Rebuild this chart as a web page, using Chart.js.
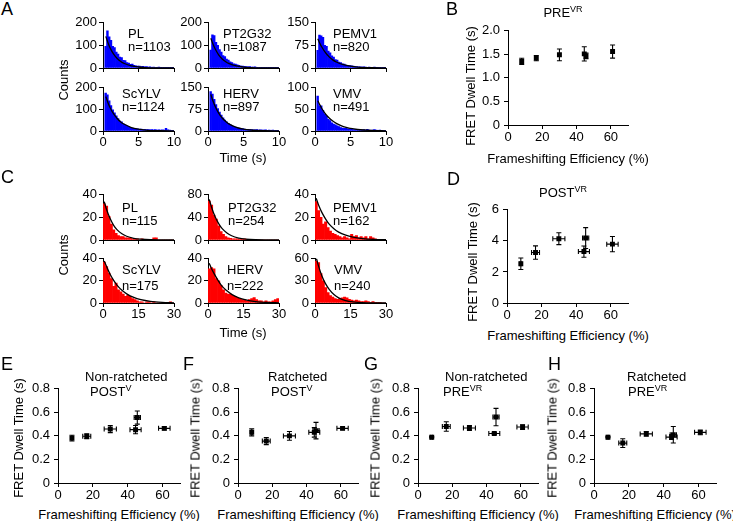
<!DOCTYPE html>
<html><head><meta charset="utf-8">
<script src="https://cdn.jsdelivr.net/npm/chart.js@4.4.1/dist/chart.umd.min.js"></script>
<style>
html,body{margin:0;padding:0;background:#fff}
body{width:733px;height:521px;position:relative;overflow:hidden;font-family:"Liberation Sans",Arial,sans-serif;color:#000}
canvas{position:absolute}
.tx{position:absolute;font-size:13px;line-height:13px;white-space:nowrap;transform:translateY(-50%)}
.cx{position:absolute;font-size:13px;line-height:13px;white-space:nowrap;transform:translate(-50%,-50%)}
.rot{position:absolute;font-size:13px;line-height:13px;white-space:nowrap;transform:translate(-50%,-50%) rotate(-90deg)}
.pl{position:absolute;font-size:18px;line-height:18px}
.sp{font-size:9px;line-height:0;vertical-align:5px}
</style></head><body>
<script>
// ---------------- DATA ----------------
const histNames = ['PL','PT2G32','PEMV1','ScYLV','HERV','VMV'];
const nA = [1103,1087,820,1124,897,491];
const nC = [115,254,162,175,222,240];
const yMaxA = [200,200,150,200,150,100];
const yMaxC = [40,80,40,40,40,60];
const timeTicksA = [0,5,10];
const timeTicksC = [0,15,30];
const binWidthA = 0.25;
const binWidthC = 1;

// Panel A histogram counts (0.25 s bins, 0-10 s)
const countsA_PL    = [0,96,164,138,122,96,90,70,62,48,46,34,33,24,22,16,17,12,10,9,8,6,7,5,6,4,5,3,4,3,2,4,3,2,2,3,1,2,2,1];
const countsA_PT2G32= [0,79,147,143,114,100,82,70,55,50,40,35,27,24,19,17,14,12,9,9,7,6,5,6,4,4,5,3,3,2,3,2,3,2,1,2,2,1,2,1];
const countsA_PEMV1 = [0,59,109,107,102,75,72,56,50,40,36,28,26,20,18,14,13,10,9,8,7,6,5,5,4,4,3,4,3,2,3,2,2,3,1,2,2,1,1,1];
const countsA_ScYLV = [0,175,168,140,118,98,84,70,58,46,42,33,28,24,20,17,14,12,10,10,8,9,7,8,6,7,5,6,5,6,4,5,4,5,4,12,5,4,3,2];
const countsA_HERV  = [0,137,128,110,92,78,66,55,46,38,32,27,22,19,16,14,11,10,9,8,7,6,6,5,5,4,4,5,3,4,3,3,4,2,3,2,3,2,2,2];
const countsA_VMV   = [0,81,58,58,48,40,34,27,24,19,16,14,12,10,8,7,6,6,5,4,4,3,3,4,2,3,2,3,2,4,2,1,2,3,2,1,2,1,1,1];

// Panel C histogram counts (1 s bins, 0-30 s)
const countsC_PL    = [32,30,21,14,9,6,4,3,3,2,2,2,1,1,1,0,1,0,0,0,0,2,2,0,0,0,0,0,0,0];
const countsC_PT2G32= [69,62,44,37,25,15,10,6,4,3,2,2,2,1,1,2,1,0,1,0,0,0,0,0,0,0,0,0,0,0];
const countsC_PEMV1 = [34,26,20,14,16,11,8,6,5,4,3,2,3,2,1,5,3,4,2,3,2,3,1,3,2,1,0,0,0,0];
const countsC_ScYLV = [37,33,27,22,15,18,12,10,8,6,7,6,4,3,2,1,1,0,1,1,0,1,0,0,0,0,0,0,1,0];
const countsC_HERV  = [31,32,31,22,20,16,12,9,8,8,7,6,5,4,3,3,2,3,4,5,3,2,2,1,2,1,1,2,3,4];
const countsC_VMV   = [57,55,40,30,21,14,10,8,6,5,6,7,8,7,5,4,3,4,3,2,2,3,2,1,2,1,1,1,0,0];

// Fit curves
const fitTimesA = [0.4,0.7,1,1.5,2,2.5,3,4,5,6,8,10];
const fitA_PL     = [140,112,89,61,42,29,20,9.5,4.5,2.1,0.5,0.1];
const fitA_PT2G32 = [132,106,85,58,40,28,19,9,4.3,2,0.5,0.1];
const fitA_PEMV1  = [97,81,68,50,37,27,20,11,6,3.2,1,0.3];
const fitA_ScYLV  = [160,131,108,79,58,42,31,16,8.5,4.5,1.2,0.3];
const fitA_HERV   = [127,104,86,62,45,33,24,12.5,6.5,3.4,0.9,0.2];
const fitA_VMV    = [70,60,51,39,30,23,17.5,10,6,3.5,1.2,0.4];

const fitTimesC = [0.5,1.5,3,4.5,6,8,10,13,16,20,25,30];
const fitC_PL     = [34,27,19,13,9,5.5,3.3,1.5,0.7,0.2,0.1,0];
const fitC_PT2G32 = [72,58,41,29,20,12.5,7.5,3.5,1.6,0.5,0.1,0];
const fitC_PEMV1  = [37,31,24,18.5,14,10,7,4.3,2.6,1.3,0.5,0.2];
const fitC_ScYLV  = [38,33,26,20.5,16,11.5,8.3,5,3,1.5,0.6,0.2];
const fitC_HERV   = [36,31,25,19.5,15,11,7.8,4.7,2.8,1.3,0.5,0.2];
const fitC_VMV    = [62,50,36,26,18.5,11.5,7,3.3,1.5,0.5,0.1,0];

// Scatter panels
const efficiency    = [8,16.5,30,44.5,45.5,61];
const efficiencyErr = [0.5,2.3,3.5,3.2,1.8,3.3];
const effTicks = [0,20,40,60];
const effMax = 70;

const dwellB_PREVR    = [1.35,1.42,1.49,1.51,1.47,1.56];
const dwellErrB_PREVR = [0.066,0.055,0.125,0.15,0.06,0.14];
const dwellD_POSTVR    = [2.53,3.25,4.14,3.31,4.18,3.79];
const dwellErrD_POSTVR = [0.37,0.43,0.38,0.36,0.67,0.49];
const dwellE = [0.381,0.397,0.458,0.453,0.556,0.464];
const dwellErrE = [0.024,0.02,0.03,0.035,0.056,0.014];
const dwellF = [0.43,0.356,0.40,0.43,0.445,0.464];
const dwellErrF = [0.03,0.03,0.037,0.04,0.07,0.012];
const dwellG = [0.389,0.48,0.467,0.42,0.56,0.475];
const dwellErrG = [0.005,0.04,0.02,0.008,0.074,0.02];
const dwellH = [0.389,0.339,0.417,0.39,0.41,0.43];
const dwellErrH = [0.005,0.037,0.02,0.02,0.07,0.02];
const yTicksB = [0,0.5,1,1.5,2];
const yTicksD = [0,2,4,6];
const yTicksEH = [0,0.2,0.4,0.6,0.8];

// ---------------- DRAWING ----------------
const FONT = {family:'"Liberation Sans", Arial, sans-serif', size:13};
function mk(l,t,w,h){const c=document.createElement('canvas');c.width=w;c.height=h;c.style.left=l+'px';c.style.top=t+'px';document.body.appendChild(c);return c;}
function txt(html,x,y,cls){const d=document.createElement('div');d.className=cls;d.innerHTML=html;d.style.left=x+'px';d.style.top=y+'px';document.body.appendChild(d);return d;}
const gridOpt = {drawOnChartArea:false, drawTicks:true, tickLength:4, color:'#000', lineWidth:1, offset:false};
const borderOpt = {display:true, color:'#000', width:1};

const errorBars = {
  id:'errorBars',
  beforeDatasetsDraw(chart){
    const ctx = chart.ctx, xs = chart.scales.x, ys = chart.scales.y;
    chart.data.datasets.forEach(ds=>{
      if(!ds.errY) return;
      ctx.save(); ctx.strokeStyle='#000'; ctx.lineWidth=1.1;
      const cap=2.5;
      ds.data.forEach((p,i)=>{
        const px=xs.getPixelForValue(p.x), py=ys.getPixelForValue(p.y);
        const ey=ds.errY[i];
        if(ey>0){
          const y1=ys.getPixelForValue(p.y-ey), y2=ys.getPixelForValue(p.y+ey);
          ctx.beginPath();ctx.moveTo(px,y1);ctx.lineTo(px,y2);
          ctx.moveTo(px-cap,y1);ctx.lineTo(px+cap,y1);ctx.moveTo(px-cap,y2);ctx.lineTo(px+cap,y2);ctx.stroke();
        }
        if(ds.errX){
          const ex=ds.errX[i];
          if(ex>0){
            const x1=xs.getPixelForValue(p.x-ex), x2=xs.getPixelForValue(p.x+ex);
            ctx.beginPath();ctx.moveTo(x1,py);ctx.lineTo(x2,py);
            ctx.moveTo(x1,py-cap);ctx.lineTo(x1,py+cap);ctx.moveTo(x2,py-cap);ctx.lineTo(x2,py+cap);ctx.stroke();
          }
        }
      });
      ctx.restore();
    });
  }
};

function hist(plotL,plotT,w,h,counts,binW,fitT,fitV,yMax,xt,color,showX){
  const YW=34,XH=18,PT=8,PR=8;
  const c=mk(plotL-YW,plotT-PT,YW+w+PR,PT+h+XH);
  new Chart(c,{
    type:'bar',
    data:{datasets:[
      {type:'line',data:fitT.map((t,i)=>({x:t,y:fitV[i]})),borderColor:'#000',borderWidth:1.3,pointRadius:0,cubicInterpolationMode:'monotone',fill:false,order:0},
      {type:'bar',data:counts.map((v,i)=>({x:(i+0.5)*binW,y:v})),backgroundColor:color,borderWidth:0,barPercentage:1,categoryPercentage:1,order:1}
    ]},
    options:{responsive:false,animation:false,events:[],
      layout:{padding:{top:PT,right:PR,left:0,bottom:0}},
      plugins:{legend:{display:false},tooltip:{enabled:false}},
      scales:{
        x:{type:'linear',min:xt[0],max:xt[xt.length-1],offset:false,grid:gridOpt,border:borderOpt,
           ticks:{display:showX,stepSize:xt[1]-xt[0],color:'#000',font:FONT,padding:0,maxRotation:0,autoSkip:false},
           afterFit(s){s.height=XH;}},
        y:{type:'linear',min:0,max:yMax,grid:gridOpt,border:borderOpt,
           ticks:{stepSize:yMax/2,color:'#000',font:FONT,padding:2},
           afterFit(s){s.width=YW;}}
      }}
  });
}

function scat(plotL,plotT,w,h,xs,ys,ex,ey,yt,dec){
  const YW=40,XH=22,PT=10,PR=12;
  const c=mk(plotL-YW,plotT-PT,YW+w+PR,PT+h+XH);
  new Chart(c,{
    type:'scatter',
    data:{datasets:[{data:xs.map((x,i)=>({x:x,y:ys[i]})),errX:ex,errY:ey,pointStyle:'rect',pointRadius:3.5,backgroundColor:'#000',borderColor:'#000',borderWidth:0}]},
    options:{responsive:false,animation:false,events:[],
      layout:{padding:{top:PT,right:PR,left:0,bottom:0}},
      plugins:{legend:{display:false},tooltip:{enabled:false}},
      scales:{
        x:{type:'linear',min:effTicks[0],max:effMax,grid:gridOpt,border:borderOpt,
           ticks:{stepSize:effTicks[1]-effTicks[0],includeBounds:false,color:'#000',font:FONT,padding:1,maxRotation:0},
           afterFit(s){s.height=XH;}},
        y:{type:'linear',min:yt[0],max:yt[yt.length-1],grid:gridOpt,border:borderOpt,
           ticks:{stepSize:yt[1]-yt[0],color:'#000',font:FONT,padding:4,callback:v=>Math.abs(v)<1e-9?'0':v.toFixed(dec)},
           afterFit(s){s.width=YW;}}
      }},
    plugins:[errorBars]
  });
}

// Histogram panels A and C
const colL=[103,208,315];
const countsA=[countsA_PL,countsA_PT2G32,countsA_PEMV1,countsA_ScYLV,countsA_HERV,countsA_VMV];
const fitsA=[fitA_PL,fitA_PT2G32,fitA_PEMV1,fitA_ScYLV,fitA_HERV,fitA_VMV];
const countsC=[countsC_PL,countsC_PT2G32,countsC_PEMV1,countsC_ScYLV,countsC_HERV,countsC_VMV];
const fitsC=[fitC_PL,fitC_PT2G32,fitC_PEMV1,fitC_ScYLV,fitC_HERV,fitC_VMV];
const rowA=[[21,47],[86,45]], rowC=[[193,47],[257,46]];
const labXA=[128,223,333,122,223,333], labYA=[[33,46],[33,46],[33,46],[93,106],[93,106],[93,106]];
const labXC=[122,228,333,122,227,334], labYC=[[207,220],[207,220],[207,220],[269,285],[269,285],[269,285]];
for(let i=0;i<6;i++){
  const col=i%3,row=Math.floor(i/3);
  hist(colL[col],rowA[row][0],71,rowA[row][1],countsA[i],binWidthA,fitTimesA,fitsA[i],yMaxA[i],timeTicksA,'#0000FF',row===1);
  hist(colL[col],rowC[row][0],71,rowC[row][1],countsC[i],binWidthC,fitTimesC,fitsC[i],yMaxC[i],timeTicksC,'#FF0000',row===1);
  txt(histNames[i],labXA[i],labYA[i][0],'tx'); txt('n='+nA[i],labXA[i],labYA[i][1],'tx');
  txt(histNames[i],labXC[i],labYC[i][0],'tx'); txt('n='+nC[i],labXC[i],labYC[i][1],'tx');
}
txt('Counts',63,80,'rot'); txt('Counts',63,255,'rot');
txt('Time (s)',243,157,'cx'); txt('Time (s)',243,332,'cx');

// Scatter panels
scat(508,29,120,96,efficiency,dwellB_PREVR,null,dwellErrB_PREVR,yTicksB,1);
scat(507,208,121,95,efficiency,dwellD_POSTVR,efficiencyErr,dwellErrD_POSTVR,yTicksD,0);
scat(58,387,122,96,efficiency,dwellE,efficiencyErr,dwellErrE,yTicksEH,1);
scat(238,387,120,96,efficiency,dwellF,efficiencyErr,dwellErrF,yTicksEH,1);
scat(418,387,120,96,efficiency,dwellG,efficiencyErr,dwellErrG,yTicksEH,1);
scat(594,387,122,96,efficiency,dwellH,efficiencyErr,dwellErrH,yTicksEH,1);

const FE='Frameshifting Efficiency (%)', FD='FRET Dwell Time (s)';
txt('PRE<span class="sp">VR</span>',563,12,'cx');
txt('POST<span class="sp">VR</span>',563,192,'cx');
txt(FE,568,158,'cx'); txt(FE,568,335,'cx');
txt(FD,470,86,'rot'); txt(FD,472,262,'rot');
txt(FE,119,514,'cx'); txt(FE,298,514,'cx'); txt(FE,478,514,'cx'); txt(FE,655,514,'cx');
txt(FD,18,438,'rot'); txt(FD,195,438,'rot'); txt(FD,375,438,'rot'); txt(FD,552,438,'rot');
txt('Non-ratcheted',85,376,'tx'); txt('POST<span class="sp">V</span>',90,391,'tx');
txt('Ratcheted',268,376,'tx'); txt('POST<span class="sp">V</span>',271,391,'tx');
txt('Non-ratcheted',445,376,'tx'); txt('PRE<span class="sp">VR</span>',443,391,'tx');
txt('Ratcheted',627,376,'tx'); txt('PRE<span class="sp">VR</span>',628,391,'tx');

// Panel letters
[['A',1,0],['B',446,0],['C',1,168],['D',447,170],['E',1,355],['F',183,355],['G',364,355],['H',548,355]].forEach(p=>txt(p[0],p[1],p[2],'pl'));
</script>
</body></html>
